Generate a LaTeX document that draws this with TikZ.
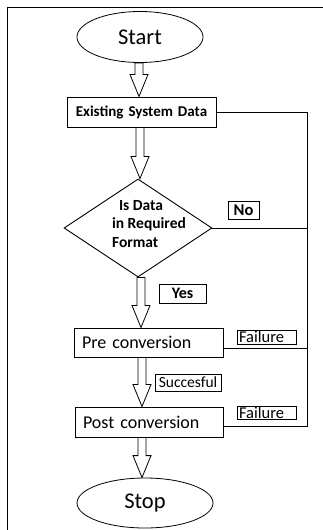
\documentclass[tikz,border=0pt]{standalone}
\usepackage{fontspec}
\setmainfont{Carlito}
\usepackage{tikz}
\usetikzlibrary{calc}
\usetikzlibrary{shapes}
\usetikzlibrary{positioning}
\tikzset{
  term/.style={draw, ellipse, line width=0.8pt, inner sep=0,
    font=\fontsize{22.5}{26}\selectfont},
  stepbox/.style={draw, line width=1pt, minimum height=30pt,
    text width=133pt, inner xsep=8pt, inner ysep=0pt, align=left,
    font=\fontsize{18}{20}\selectfont},
  decision/.style={draw, diamond, line width=0.9pt,
    minimum width=148pt, minimum height=98pt, inner sep=0},
  dtext/.style={align=left, inner sep=0,
    font=\bfseries\fontsize{15.5}{18.5}\selectfont},
  tag/.style={draw, line width=0.8pt, inner sep=0,
    font=\fontsize{15.5}{18}\selectfont},
  fat/.style={draw, line width=0.8pt, line join=miter},
  back/.style={line width=0.9pt}
}
% hollow block arrow from the bottom of one node to the top of the next
\newcommand{\fatarrow}[3][0pt]{%
  \draw[fat] let \p1=(#2.south), \p2=(#3.north) in
    ({\x1+(#1)-4pt},{\y1}) -- ({\x1+(#1)-4pt},{\y2+22pt})
    -- ({\x1+(#1)-9pt},{\y2+22pt}) -- ({\x1+(#1)},{\y2})
    -- ({\x1+(#1)+9pt},{\y2+22pt}) -- ({\x1+(#1)+4pt},{\y2+22pt})
    -- ({\x1+(#1)+4pt},{\y1}) -- cycle;
}

\begin{document}
\begin{tikzpicture}[x=1pt, y=-1pt]
  \useasboundingbox (0,0) rectangle (323,530);
  \draw[back] (7,530) -- (7,7) -- (323,7);

  \node[term, minimum width=126pt, minimum height=51pt] (start) at (140,37) {Start};
  \node[stepbox, align=center, font=\bfseries\fontsize{15}{17}\selectfont]
    (exist) at (141.5,112) {Existing System Data};
  \node[decision, label={[dtext, xshift=11pt, yshift=4pt]center:{\hspace*{7pt}Is Data\\in Required\\Format}}]
    (dec) at (138,228) {};
  \node[stepbox, minimum height=29pt] (pre) at (148.5,342.5) {Pre conversion};
  \node[stepbox, text width=132pt] (post) at (149,422) {Post conversion};
  \node[term, minimum width=136pt, minimum height=50pt] (stop) at (145,503) {Stop};

  % answer tags
  \node[tag, minimum width=31pt, minimum height=18pt, font=\bfseries\fontsize{16.5}{18}\selectfont]
    (no) at (243.5,210) {No};
  \node[tag, minimum width=47pt, minimum height=19pt, font=\bfseries\fontsize{16}{18}\selectfont]
    (yes) at (182.5,293.5) {Yes};
  \node[tag, minimum width=66pt, minimum height=17pt] (ok) at (188,382.5) {Succesful};
  \node[tag, minimum height=14pt, text width=55pt, inner xsep=2pt, align=left, font=\fontsize{16.5}{18}\selectfont]
    (fail1) at (266.5,337) {Failure};
  \node[tag, minimum height=13pt, text width=55pt, inner xsep=2pt, align=left, font=\fontsize{16.5}{18}\selectfont]
    (fail2) at (266.5,412.5) {Failure};

  \fatarrow[-1pt]{start}{exist}
  \fatarrow[-1.5pt]{exist}{dec}
  \fatarrow[3pt]{dec}{pre}
  \fatarrow[-6.5pt]{pre}{post}
  \fatarrow[-7pt]{post}{stop}

  % return lines
  \coordinate (rail) at (307,112);
  \coordinate (preout) at ([yshift=-5.5pt]pre.east);
  \coordinate (postout) at ([yshift=-4pt]post.east);
  \draw[back] (exist.east) -- (exist.east -| rail) -- (rail |- postout) -- (postout);
  \draw[back] (dec.east) -- (dec.east -| rail);
  \draw[back] (preout) -- (preout -| rail);
\end{tikzpicture}
\end{document}
